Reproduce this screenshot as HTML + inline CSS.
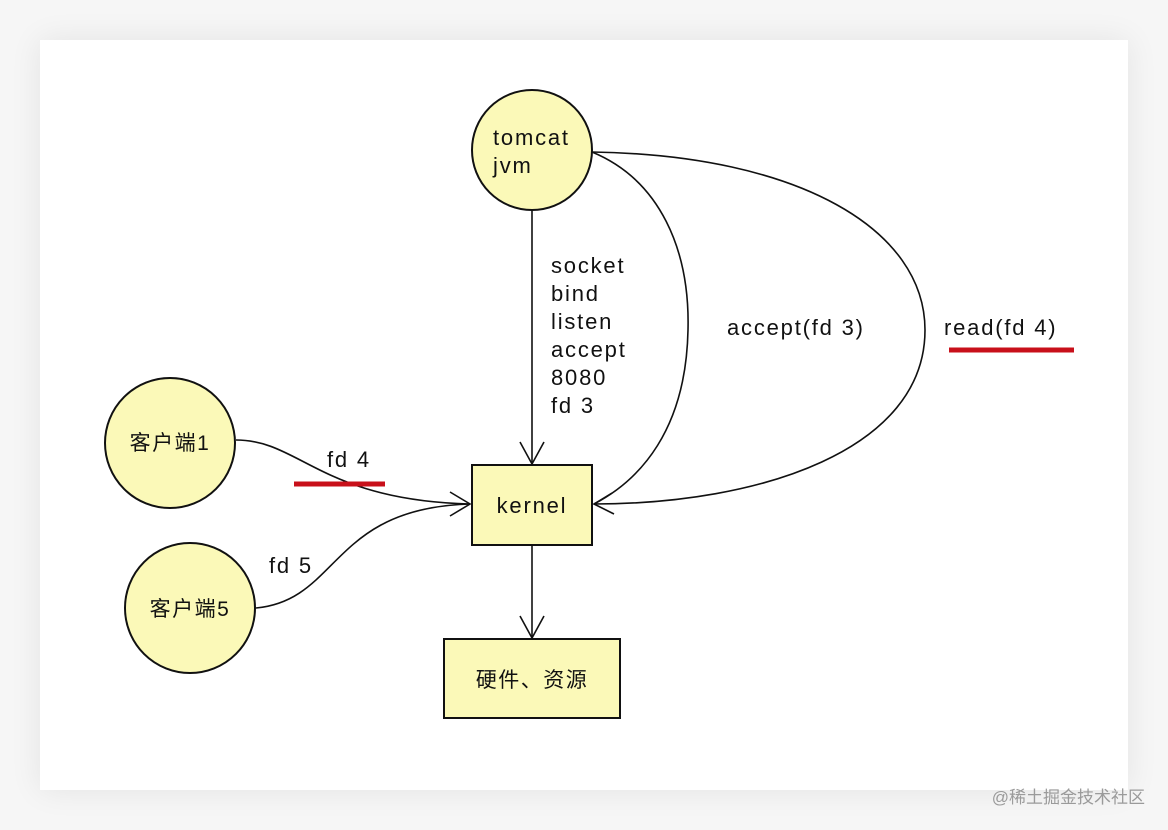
<!DOCTYPE html>
<html><head><meta charset="utf-8"><style>
html,body{margin:0;padding:0;background:#f6f6f6;}
.card{position:absolute;left:40px;top:40px;width:1088px;height:750px;background:#fff;box-shadow:0 0 30px rgba(0,0,0,0.08);}
svg{position:absolute;left:0;top:0;}
text{font-family:"Liberation Sans","Noto Sans CJK SC",sans-serif;fill:#111;}
</style></head><body>
<div class="card"></div>
<svg width="1168" height="830" viewBox="0 0 1168 830">
<g fill="#fbf9b8" stroke="#111" stroke-width="2">
<circle cx="532" cy="150" r="60"/>
<circle cx="170" cy="443" r="65"/>
<circle cx="190" cy="608" r="65"/>
<rect x="472" y="465" width="120" height="80"/>
<rect x="444" y="639" width="176" height="79"/>
</g>
<g fill="none" stroke="#111" stroke-width="1.6">
<path d="M532,210 L532,464"/>
<path d="M520,442 L532,464 L544,442"/>
<path d="M532,545 L532,638"/>
<path d="M520,616 L532,638 L544,616"/>
<path d="M592,152 C660,180 690,250 688,330 C686,430 640,480 594,504"/>
<path d="M592,152 C800,155 925,230 925,330 C925,450 760,504 594,504"/>
<path d="M612,493 L594,504 L614,514"/>
<path d="M236,440 C300,440 320,500 470,504"/>
<path d="M256,608 C340,600 330,508 470,504"/>
<path d="M450,492 L470,504 L450,516"/>
</g>
<g stroke="#c8101a" stroke-width="5">
<line x1="949" y1="350" x2="1074" y2="350"/>
<line x1="294" y1="484" x2="385" y2="484"/>
</g>
<g font-size="22" letter-spacing="1.8">
<text x="493" y="145">tomcat</text>
<text x="493" y="173">jvm</text>
<text x="551" y="273">socket</text>
<text x="551" y="301">bind</text>
<text x="551" y="329">listen</text>
<text x="551" y="357">accept</text>
<text x="551" y="385">8080</text>
<text x="551" y="413">fd 3</text>
<text x="727" y="335">accept(fd 3)</text>
<text x="944" y="335">read(fd 4)</text>
<text x="327" y="467">fd 4</text>
<text x="269" y="573">fd 5</text>
<text x="532" y="513" text-anchor="middle">kernel</text>
</g>
<g font-size="21" letter-spacing="1.5">
<text x="170" y="450" text-anchor="middle">客户端1</text>
<text x="190" y="616" text-anchor="middle">客户端5</text>
<text x="532" y="687" text-anchor="middle">硬件、资源</text>
</g>
<text x="1145" y="803" text-anchor="end" font-size="17" style="fill:#9a9a9a">@稀土掘金技术社区</text>
</svg>
</body></html>
